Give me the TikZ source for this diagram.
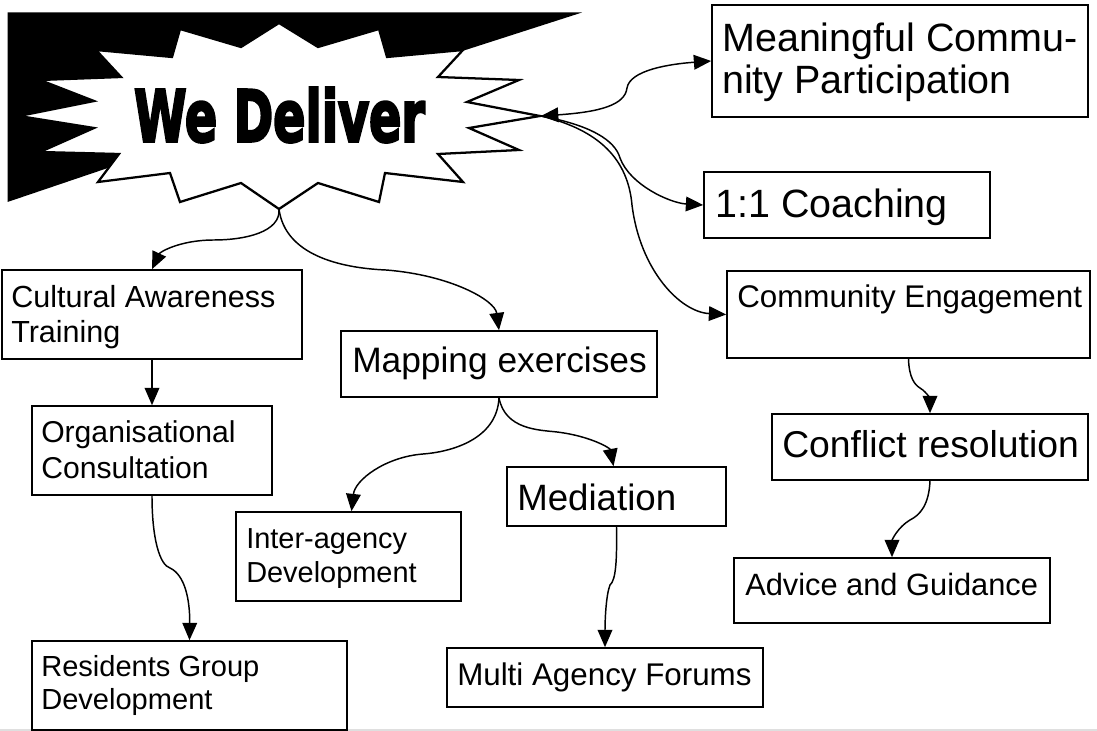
\documentclass[tikz,border=0pt]{standalone}
\usepackage{fontspec}
\setmainfont{Liberation Sans}
\newfontfamily\heavyfont{DejaVu Sans}[BoldFeatures={FakeBold=4}]
\usetikzlibrary{arrows.meta,fit,calc}
\newcommand\fsz[1]{\fontsize{#1pt}{#1pt}\selectfont}
\begin{document}
\begin{tikzpicture}[x=0.75pt,y=-0.75pt,
  box/.style={draw,line width=1.2pt,inner sep=0pt,fit={#1}},
  txt/.style={anchor=base west,inner sep=0pt},
  conn/.style={line width=1.1pt,-{Triangle[length=13pt,width=11pt]}},
  biconn/.style={line width=1.1pt,{Triangle[length=13pt,width=11pt]}-{Triangle[length=13pt,width=11pt]}}]
\useasboundingbox (0,0) rectangle (1097,731);
\fill[white] (0,0) rectangle (1097,731);
\fill[gray!25] (0,729.3) rectangle (1097,731);

% shadow and starburst
\fill[black] (7.5,12.5) -- (582,12.5) -- (279,110) -- (7.5,202) -- cycle;
\draw[line width=1.7pt,fill=white,line join=miter]
 (279,23) -- (318,47) -- (379,29) -- (387,57) -- (463,50) -- (438,77) -- (519,80) -- (467,102)
 -- (540,116) -- (469,128) -- (519,150) -- (438,154) -- (463,182) -- (385,173) -- (379,202)
 -- (318,183) -- (279,209) -- (241,183) -- (180,202) -- (170,173) -- (98,182) -- (119,154)
 -- (40,152) -- (94,128) -- (19,116) -- (94,101) -- (40,80) -- (121,77) -- (96,50)
 -- (172,57) -- (180,29) -- (241,47) -- cycle;
\node[inner sep=0pt] (title) at (279.5,115) {\resizebox{218pt}{40.5pt}{\heavyfont\bfseries We Deliver}};
\coordinate (sb) at (279,209);
\coordinate (rt) at (541,116);

% boxes
\node[box={(712,5) (1088,117)}] (mean) {};
\node[box={(704,172) (990,238)}] (coach) {};
\node[box={(727,271) (1090,358)}] (comm) {};
\node[box={(772,414) (1088,480)}] (conf) {};
\node[box={(734,558) (1050,623)}] (adv) {};
\node[box={(2,270) (302,359)}] (cult) {};
\node[box={(32,406) (272,495)}] (org) {};
\node[box={(32,641) (347,730)}] (resid) {};
\node[box={(341,331) (657,397)}] (map) {};
\node[box={(236,512) (461,601)}] (inter) {};
\node[box={(507,467) (726,526)}] (med) {};
\node[box={(447,648) (763,707)}] (multi) {};

% texts
\node[txt,font=\fsz{29.6}] (mean-a) at (722,52) {Meaningful Commu-};
\node[txt,font=\fsz{29.6}] (mean-b) at (722,94) {nity Participation};
\node[txt,font=\fsz{29.6}] (coach-a) at (715,218) {1:1 Coaching};
\node[txt,font=\fsz{23.5}] (comm-a) at (737,308) {Community Engagement};
\node[txt,font=\fsz{28}] (conf-a) at (782,457) {Conflict resolution};
\node[txt,font=\fsz{23.1}] (adv-a) at (745,595) {Advice and Guidance};
\node[txt,font=\fsz{22.9}] (cult-a) at (11,308) {Cultural Awareness};
\node[txt,font=\fsz{22.9}] (cult-b) at (11,343) {Training};
\node[txt,font=\fsz{22.6}] (org-a) at (41,442) {Organisational};
\node[txt,font=\fsz{22.6}] (org-b) at (41,478) {Consultation};
\node[txt,font=\fsz{21.8}] (resid-a) at (41,676) {Residents Group};
\node[txt,font=\fsz{21.8}] (resid-b) at (41,709) {Development};
\node[txt,font=\fsz{26.5}] (map-a) at (352,372) {Mapping exercises};
\node[txt,font=\fsz{21.7}] (inter-a) at (246,548) {Inter-agency};
\node[txt,font=\fsz{21.7}] (inter-b) at (246,582) {Development};
\node[txt,font=\fsz{27.5}] (med-a) at (517,510) {Mediation};
\node[txt,font=\fsz{23.5}] (multi-a) at (457,685) {Multi Agency Forums};

% connectors
\draw[conn] (sb) .. controls (281,232) and (245,240) .. (214,240)
  .. controls (180,240) and (160,252) .. (cult.north);
\draw[conn] (sb) .. controls (285,255) and (340,268) .. (386,270)
  .. controls (450,275) and (495,300) .. (map.north);
\draw[conn] (cult.south) -- (org.north);
\draw[conn] (org.south) .. controls (152,540) and (160,565) .. (170,568)
  .. controls (185,575) and (190,600) .. (resid.north);
\draw[conn] (map.south) .. controls (497,440) and (450,452) .. (423,454)
  .. controls (385,457) and (355,480) .. ($(inter.north)+(3,0)$);
\draw[conn] (map.south) .. controls (505,430) and (540,430) .. (557,432)
  .. controls (590,436) and (610,448) .. ($(med.north)+(-3,0)$);
\draw[conn] (med.south) .. controls (617,560) and (616,580) .. (610,585)
  .. controls (606,595) and (605,620) .. (multi.north);
\draw[conn] (comm.south) .. controls (909,378) and (915,385) .. (920,388)
  .. controls (928,393) and (930,400) .. (conf.north);
\draw[conn] (conf.south) .. controls (929,505) and (920,515) .. (910,520)
  .. controls (898,527) and (892,540) .. (adv.north);
\draw[biconn] (rt) .. controls (600,112) and (625,105) .. (627,88)
  .. controls (630,70) and (670,64) .. (mean.west);
\draw[conn] (rt) .. controls (590,125) and (615,140) .. (620,158)
  .. controls (630,185) and (670,203) .. (coach.west);
\draw[conn] (rt) .. controls (600,130) and (628,160) .. (632,205)
  .. controls (640,270) and (680,312) .. (comm.west);
\end{tikzpicture}
\end{document}
